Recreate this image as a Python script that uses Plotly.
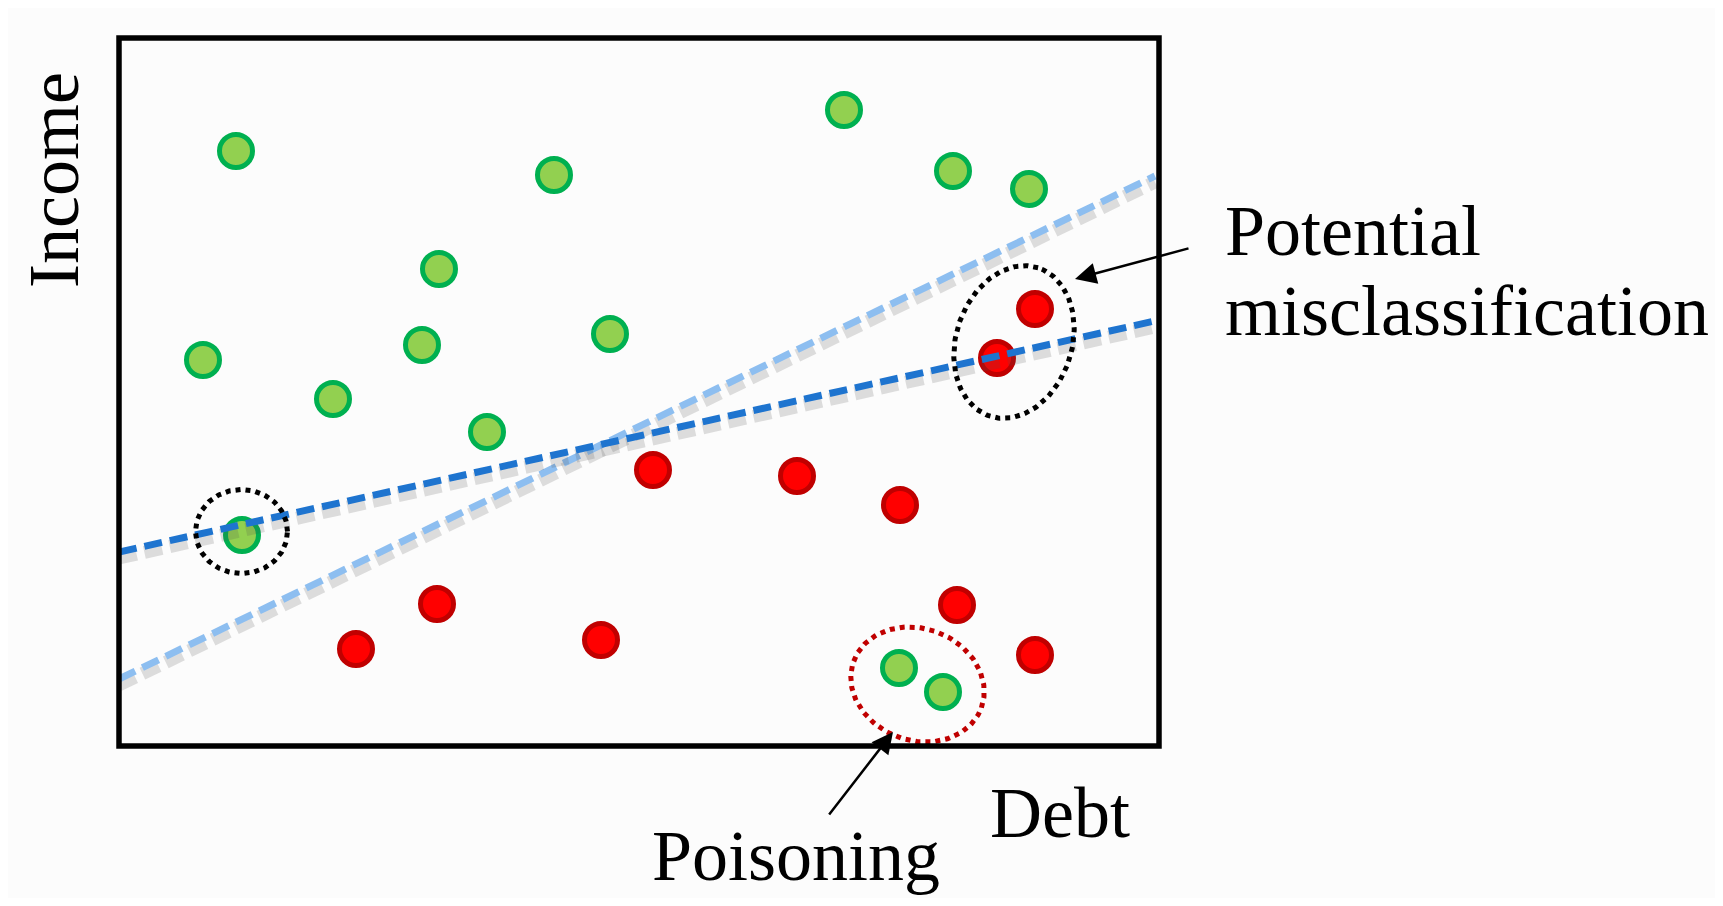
import numpy as np
import plotly.graph_objects as go

# ---------------- data ----------------
green_debt = [11.7, 43.5, 72.5, 83.4, 91.0, 32.0, 8.4, 30.3, 49.1, 21.4, 36.8, 12.3, 78.0, 82.4]
green_income = [59.5, 57.1, 63.6, 57.5, 55.7, 47.7, 38.6, 40.1, 41.2, 34.7, 31.4, 21.1, 7.8, 5.4]

red_debt = [91.6, 87.8, 53.4, 67.8, 78.1, 31.8, 23.7, 48.2, 83.8, 91.6]
red_income = [43.7, 38.8, 27.6, 27.0, 24.1, 14.2, 9.7, 10.6, 14.1, 9.1]

boundary_dark_x = [0.0, 104.0]
boundary_dark_y = [19.4, 42.6]
boundary_light_x = [0.0, 103.6]
boundary_light_y = [6.7, 57.0]

x_range = [0, 104]
y_range = [0, 70.8]

# ---------------- figure ----------------
fig = go.Figure()

def shadow(xs, ys, dash):
    return go.Scatter(x=xs, y=[v - 0.6 for v in ys], mode="lines",
                      line=dict(color="rgba(80,80,80,0.18)", width=13, dash=dash),
                      hoverinfo="skip", showlegend=False)

# points
fig.add_trace(go.Scatter(x=green_debt, y=green_income, mode="markers",
                         marker=dict(size=33, color="#92D050",
                                     line=dict(color="#00B050", width=5)),
                         showlegend=False, cliponaxis=False))
fig.add_trace(go.Scatter(x=red_debt, y=red_income, mode="markers",
                         marker=dict(size=33, color="#FF0000",
                                     line=dict(color="#C00000", width=5)),
                         showlegend=False, cliponaxis=False))

# boundary lines with soft shadows
fig.add_trace(shadow(boundary_light_x, boundary_light_y, "18px,8px"))
fig.add_trace(go.Scatter(x=boundary_light_x, y=boundary_light_y, mode="lines",
                         line=dict(color="#8DBEF0", width=7, dash="18px,8px"),
                         showlegend=False))
fig.add_trace(shadow(boundary_dark_x, boundary_dark_y, "18px,8px"))
fig.add_trace(go.Scatter(x=boundary_dark_x, y=boundary_dark_y, mode="lines",
                         line=dict(color="#1E74CF", width=7, dash="18px,8px"),
                         showlegend=False))

# dotted ellipses (annotation outlines)
def ellipse(cx, cy, a, b, theta_deg, color):
    t = np.linspace(0, 2 * np.pi, 240)
    th = np.deg2rad(theta_deg)
    ex = cx + a * np.cos(t) * np.cos(th) - b * np.sin(t) * np.sin(th)
    ey = cy + a * np.cos(t) * np.sin(th) + b * np.sin(t) * np.cos(th)
    return go.Scatter(x=ex, y=ey, mode="lines",
                      line=dict(color=color, width=5, dash="5px,5px"),
                      hoverinfo="skip", showlegend=False, cliponaxis=False)

fig.add_trace(ellipse(12.25, 21.45, 4.6, 4.2, 0, "#000000"))
fig.add_trace(ellipse(89.5, 40.4, 7.8, 5.8, 72, "#000000"))
fig.add_trace(ellipse(79.85, 6.15, 6.8, 5.6, -20, "#C00000"))

# frame
fig.add_shape(type="rect", xref="paper", yref="paper", x0=0, x1=1, y0=0, y1=1,
              line=dict(color="black", width=5.5), layer="above")

font = dict(family="Liberation Serif, Times New Roman, serif", size=72, color="black")

def label(text, px, py, xanchor="left", angle=0):
    fig.add_annotation(text=text, xref="paper", yref="paper",
                       x=(px - 119) / 1040, y=(746 - py) / 708,
                       xanchor=xanchor, yanchor="middle", showarrow=False,
                       textangle=angle, font=font)

label("Potential", 1223, 231)
label("misclassification", 1223, 311)
label("Debt", 988, 813)
label("Poisoning", 650, 856)
label("Income", 54, 180, xanchor="center", angle=-90)

# arrows
fig.add_annotation(x=95.6, y=46.7, xref="x", yref="y", ax=115, ay=-31,
                   text="", showarrow=True, arrowhead=2, arrowsize=1.7,
                   arrowwidth=2.5, arrowcolor="black")
fig.add_annotation(x=77.4, y=1.4, xref="x", yref="y", ax=-65, ay=84,
                   text="", showarrow=True, arrowhead=2, arrowsize=1.7,
                   arrowwidth=2.5, arrowcolor="black")

fig.update_xaxes(range=x_range, visible=False, fixedrange=True)
fig.update_yaxes(range=y_range, visible=False, fixedrange=True)
fig.update_layout(width=1707, height=890,
                  margin=dict(l=111, r=556, t=30, b=152, pad=0),
                  paper_bgcolor="#FCFCFC", plot_bgcolor="#FCFCFC",
                  showlegend=False)

fig.write_html("out.html")
